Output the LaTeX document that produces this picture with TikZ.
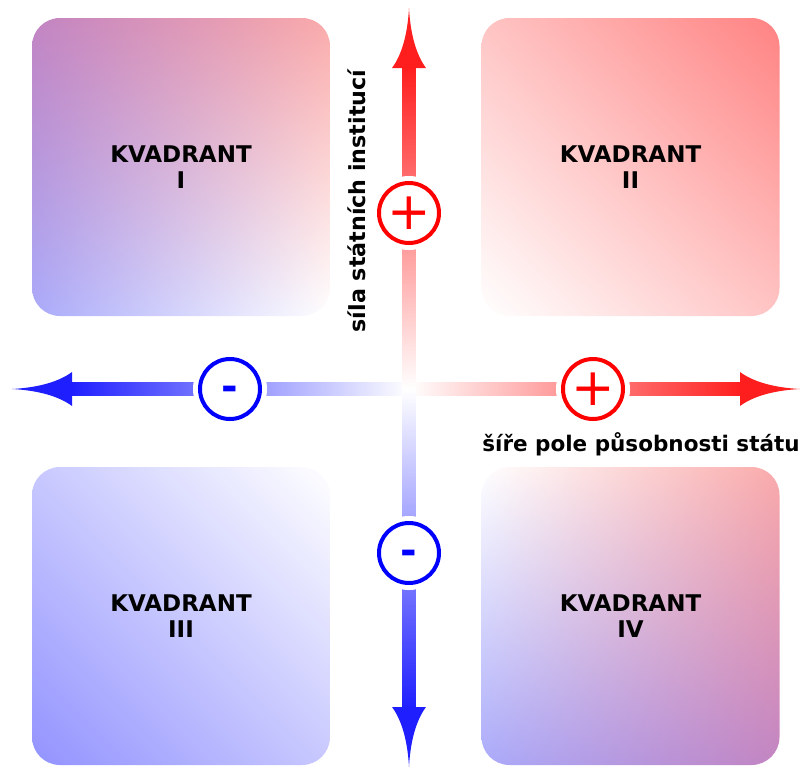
\documentclass[tikz,border=0pt]{standalone}
\usepackage{fontspec}
\setmainfont{DejaVu Sans}
\usetikzlibrary{calc,shadings}
\definecolor{qPurple}{RGB}{194,132,194}
\definecolor{qPink}{RGB}{250,170,170}
\definecolor{qLav}{RGB}{170,170,250}
\definecolor{qRed}{RGB}{255,130,130}
\definecolor{qRedL}{RGB}{255,196,196}
\definecolor{qBlue}{RGB}{146,146,255}
\definecolor{qBlueL}{RGB}{200,200,255}
\definecolor{axRed}{RGB}{255,30,30}
\definecolor{axBlue}{RGB}{30,30,255}
\newcommand\arrowheadat[3]{\fill[#3, shift={(#1)}, rotate=#2] (0,0) .. controls (-28,1.5) and (-48,8) .. (-60,17) -- (-60,-17) .. controls (-48,-8) and (-28,-1.5) .. (0,0);}
\newcommand\centeredglyph[2]{\raisebox{-#1}[0pt][0pt]{#2}}
\begin{document}
\begin{tikzpicture}[x=1pt,y=-1pt,
  quad/.style={minimum width=298pt, minimum height=298pt, rounded corners=28pt, inner sep=0pt, align=center, font=\bfseries\fontsize{23}{26}\selectfont},
  sign/.style={circle, minimum size=60pt, inner sep=0pt, line width=4pt, fill=white, preaction={draw=white, line width=14pt}},
  plussign/.style={sign, draw=red, text=red, font=\fontsize{52}{52}\selectfont},
  minussign/.style={sign, draw=blue, text=blue, font=\bfseries\fontsize{40}{40}\selectfont, text height=0pt, text depth=0pt},
  lbl/.style={font=\bfseries\fontsize{21.5}{24}\selectfont}
]
\useasboundingbox (0,0) rectangle (804,769);

% quadrants
\node[quad, shade, upper left=qPurple, upper right=qPink, lower left=qLav, lower right=white] (q1) at (181,167) {KVADRANT\\I};
\node[quad, shade, upper left=qRedL, upper right=qRed, lower left=white, lower right=qRedL] (q2) at (630.5,167) {KVADRANT\\II};
\node[quad, shade, upper left=qBlueL, upper right=white, lower left=qBlue, lower right=qBlueL] (q3) at (181,616) {KVADRANT\\III};
\node[quad, shade, upper left=white, upper right=qPink, lower left=qLav, lower right=qPurple] (q4) at (630.5,616) {KVADRANT\\IV};

% axes
\coordinate (O) at (409,389);
\coordinate (tipN) at (409,8);
\coordinate (tipS) at (409,767);
\coordinate (tipW) at (12,389);
\coordinate (tipE) at (800,389);

\shade[left color=axBlue, right color=white] ($(tipW)+(58,-6.5)$) rectangle ($(O)+(0,6.5)$);
\shade[left color=white, right color=axRed] ($(O)+(0,-6.5)$) rectangle ($(tipE)+(-58,6.5)$);
\shade[top color=axRed, bottom color=white] ($(tipN)+(-6.5,58)$) rectangle ($(O)+(6.5,0)$);
\shade[top color=white, bottom color=axBlue] ($(O)+(-6.5,0)$) rectangle ($(tipS)+(6.5,-58)$);

\arrowheadat{tipN}{90}{axRed}
\arrowheadat{tipS}{-90}{axBlue}
\arrowheadat{tipW}{180}{axBlue}
\arrowheadat{tipE}{0}{axRed}

% signs
\node[plussign] (pN) at (409,213) {+};
\node[plussign] (pE) at (593,389) {+};
\node[minussign] (mW) at (230,389) {\centeredglyph{11pt}{-}};
\node[minussign] (mS) at (409,553) {\centeredglyph{11pt}{-}};

% labels
\node[lbl, rotate=90, font=\bfseries\fontsize{22.2}{24}\selectfont] (lv) at (357,201) {síla státních institucí};
\node[lbl] (lh) at (641,444) {šíře pole působnosti státu};
\end{tikzpicture}
\end{document}
